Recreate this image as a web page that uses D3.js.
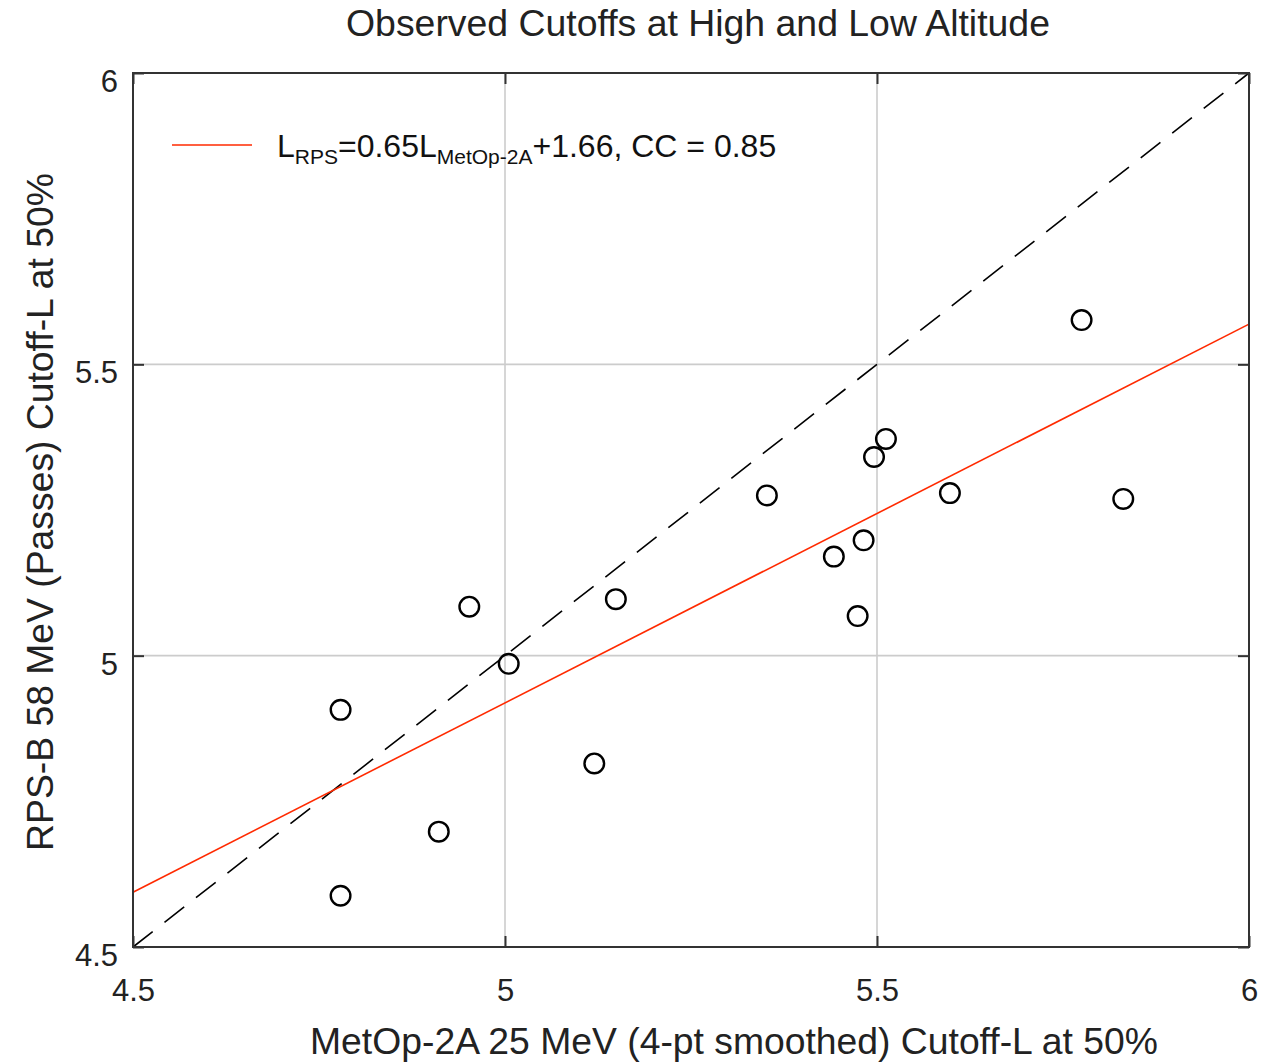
<!DOCTYPE html>
<html><head><meta charset="utf-8">
<script src="https://cdn.jsdelivr.net/npm/d3@7"></script>
<style>body{margin:0;background:#fff}svg{display:block}</style>
</head><body>
<svg id="chart" width="1276" height="1062"></svg>
<script>
const metop = [4.779,4.779,4.911,4.952,5.005,5.120,5.149,5.352,5.442,5.474,5.482,5.496,5.512,5.598,5.775,5.831];
const rps   = [4.907,4.588,4.698,5.084,4.986,4.815,5.097,5.275,5.170,5.068,5.198,5.341,5.372,5.279,5.576,5.269];
const fitSlope = 0.65, fitIntercept = 1.669;
const xTicks = [4.5,5,5.5,6], yTicks = [4.5,5,5.5,6];
const gridVals = [5,5.5];
const domain = [4.5,6];

const svg = d3.select("#chart");
const font = "Liberation Sans, Arial, sans-serif";
const L=133, R=1249, T=73, B=947;
const x = d3.scaleLinear().domain(domain).range([L,R]);
const y = d3.scaleLinear().domain(domain).range([B,T]);

// grid
svg.append("g").selectAll("line.gx").data(gridVals).join("line")
  .attr("x1",d=>x(d)).attr("x2",d=>x(d)).attr("y1",T).attr("y2",B)
  .attr("stroke","#cccccc").attr("stroke-width",1.6);
svg.append("g").selectAll("line.gy").data(gridVals).join("line")
  .attr("y1",d=>y(d)).attr("y2",d=>y(d)).attr("x1",L).attr("x2",R)
  .attr("stroke","#cccccc").attr("stroke-width",1.6);

// 1:1 dashed line
const line = d3.line().x(d=>x(d[0])).y(d=>y(d[1]));
svg.append("path").attr("d",line(domain.map(v=>[v,v])))
  .attr("stroke","#000").attr("stroke-width",1.6).attr("fill","none")
  .attr("stroke-dasharray","25,15");

// fit line
svg.append("path").attr("d",line(domain.map(v=>[v,fitSlope*v+fitIntercept])))
  .attr("stroke","#ff2a00").attr("stroke-width",1.6).attr("fill","none");

// points
svg.append("g").selectAll("circle").data(metop.map((v,i)=>[v,rps[i]])).join("circle")
  .attr("cx",d=>x(d[0])).attr("cy",d=>y(d[1])).attr("r",9.8)
  .attr("fill","none").attr("stroke","#000").attr("stroke-width",2.4);

// axes (inner ticks on all sides)
const tk = 11;
const axStyle = g => { g.select(".domain").remove(); g.selectAll("line").attr("stroke","#333").attr("stroke-width",2); };
svg.append("g").attr("transform",`translate(0,${B})`)
  .call(d3.axisBottom(x).tickValues(xTicks).tickSize(-tk).tickFormat(d3.format("")))
  .call(axStyle).call(g=>g.selectAll("text").attr("dy",null).attr("y",54)
     .attr("font-family",font).attr("font-size",31).attr("fill","#222"));
svg.append("g").attr("transform",`translate(0,${T})`)
  .call(d3.axisTop(x).tickValues(xTicks).tickSize(-tk).tickFormat(""))
  .call(axStyle);
svg.append("g").attr("transform",`translate(${L},0)`)
  .call(d3.axisLeft(y).tickValues(yTicks).tickSize(-tk).tickFormat(d3.format("")))
  .call(axStyle).call(g=>g.selectAll("text").attr("x",-15).attr("dy","0.6em")
     .attr("font-family",font).attr("font-size",31).attr("fill","#222"));
svg.append("g").attr("transform",`translate(${R},0)`)
  .call(d3.axisRight(y).tickValues(yTicks).tickSize(-tk).tickFormat(""))
  .call(axStyle);

// frame
svg.append("rect").attr("x",L).attr("y",T).attr("width",R-L).attr("height",B-T)
  .attr("fill","none").attr("stroke","#333").attr("stroke-width",2);

// title & labels
svg.append("text").attr("x",698).attr("y",36).attr("text-anchor","middle")
  .attr("font-family",font).attr("font-size",37.4).attr("fill","#222")
  .text("Observed Cutoffs at High and Low Altitude");
svg.append("text").attr("x",734).attr("y",1054).attr("text-anchor","middle")
  .attr("font-family",font).attr("font-size",37.3).attr("fill","#222")
  .text("MetOp-2A 25 MeV (4-pt smoothed) Cutoff-L at 50%");
svg.append("text").attr("transform","translate(53,512) rotate(-90)").attr("text-anchor","middle")
  .attr("font-family",font).attr("font-size",37.3).attr("fill","#222")
  .text("RPS-B 58 MeV (Passes) Cutoff-L at 50%");

// legend
svg.append("line").attr("x1",172).attr("x2",252).attr("y1",145).attr("y2",145)
  .attr("stroke","#ff2a00").attr("stroke-width",1.6);
const lt = svg.append("text").attr("x",277).attr("y",157)
  .attr("font-family",font).attr("font-size",32).attr("fill","#111");
lt.append("tspan").text("L");
lt.append("tspan").attr("font-size",21).attr("dy",7).text("RPS");
lt.append("tspan").attr("dy",-7).text("=0.65L");
lt.append("tspan").attr("font-size",21).attr("dy",7).text("MetOp-2A");
lt.append("tspan").attr("dy",-7).text("+1.66, CC = 0.85");
</script>
</body></html>
